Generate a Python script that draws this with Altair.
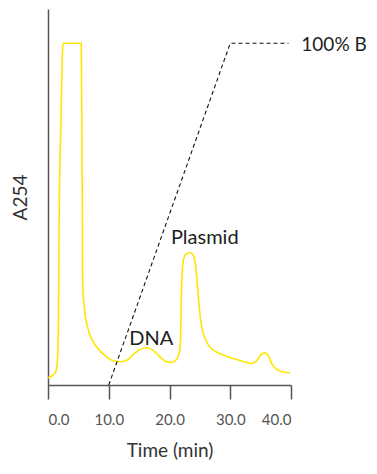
import altair as alt
import pandas as pd

# A254 trace (time in min, absorbance in arbitrary units; 100 = off-scale)
trace_time = [0.0, 0.49, 0.99, 1.32, 1.53, 1.70, 1.86, 2.14, 2.39, 2.47,
              5.48, 5.65, 5.70, 5.93, 6.37, 6.91, 8.02, 9.66, 10.70, 11.97,
              13.0, 13.99, 14.98, 16.13, 17.28, 18.44, 19.42, 20.36, 21.07, 21.56,
              21.81, 21.94, 22.06, 22.30, 22.72, 23.37, 23.80, 24.20, 24.53, 24.86,
              25.30, 25.84, 26.67, 27.82, 28.81, 30.78, 32.43, 33.42, 34.24, 34.90,
              35.64, 36.21, 36.87, 37.70, 38.68, 39.84]
trace_a254 = [2.1, 2.5, 3.2, 4.1, 6.7, 15.2, 54.1, 77.5, 98.0, 100.0,
              100.0, 54.1, 30.7, 23.4, 18.1, 14.6, 11.1, 8.2, 7.1, 6.8,
              7.3, 8.8, 10.2, 10.9, 10.2, 8.2, 6.9, 6.6, 7.3, 9.1,
              13.2, 24.9, 32.2, 36.6, 38.3, 38.7, 38.3, 36.0, 30.7, 23.4,
              17.0, 13.7, 11.1, 9.6, 8.8, 7.6, 6.7, 6.3, 6.9, 8.5,
              9.4, 8.8, 6.1, 4.5, 3.8, 3.6]

# Gradient (%B)
grad_time = [10.0, 30.0, 39.6]
grad_b = [0.0, 100.0, 100.0]

# Annotations
label_text = ["DNA", "Plasmid"]
label_time = [17.0, 25.8]
label_val = [11.7, 41.2]

end_text = ["100% B"]
end_time = [41.7]
end_val = [99.5]

x_ticks = [0, 10, 20, 30, 40]

FONT = "Lato"

trace_df = pd.DataFrame({"t": trace_time, "a": trace_a254, "o": list(range(len(trace_time)))})
grad_df = pd.DataFrame({"t": grad_time, "a": grad_b})
lab_df = pd.DataFrame({"t": label_time, "a": label_val, "txt": label_text})
end_df = pd.DataFrame({"t": end_time, "a": end_val, "txt": end_text})

xscale = alt.Scale(domain=[0, 40], nice=False, zero=False)
yscale = alt.Scale(domain=[0, 110], nice=False)

xaxis = alt.Axis(values=x_ticks, format=".1f", title="Time (min)", grid=False,
                 domainColor="#555", domainWidth=1.5, tickColor="#555", tickWidth=1.5,
                 tickSize=14, labelPadding=13, labelFontSize=15, labelColor="#555",
                 labelFont=FONT, titleFont=FONT, titleFontSize=19, titleFontWeight="normal",
                 titleColor="#333", titlePadding=14)
yaxis = alt.Axis(title="A254", grid=False, ticks=False, labels=False,
                 domainColor="#555", domainWidth=1.5, titleFont=FONT, titleFontSize=19,
                 titleFontWeight="normal", titleColor="#333", titlePadding=18)

trace = alt.Chart(trace_df).mark_line(color="#FFE600", strokeWidth=1.6, interpolate="monotone").encode(
    x=alt.X("t:Q", scale=xscale, axis=xaxis),
    y=alt.Y("a:Q", scale=yscale, axis=yaxis),
    order="o:Q",
)

grad = alt.Chart(grad_df).mark_line(color="#111", strokeWidth=1.1, strokeDash=[4, 3]).encode(
    x=alt.X("t:Q", scale=xscale),
    y=alt.Y("a:Q", scale=yscale),
)

labels = alt.Chart(lab_df).mark_text(font=FONT, fontSize=20, color="#222", baseline="alphabetic",
                                     align="center").encode(
    x=alt.X("t:Q", scale=xscale),
    y=alt.Y("a:Q", scale=yscale),
    text="txt:N",
)

endlab = alt.Chart(end_df).mark_text(font=FONT, fontSize=19, color="#222", baseline="middle",
                                     align="left").encode(
    x=alt.X("t:Q", scale=xscale),
    y=alt.Y("a:Q", scale=yscale),
    text="txt:N",
)

chart = alt.layer(trace, grad, labels, endlab).properties(
    width=243, height=376,
    autosize=alt.AutoSizeParams(type="none"),
    padding={"left": 40, "top": 1, "right": 78, "bottom": 81},
).configure_view(stroke=None)

chart.save("out.html", embed_options={"renderer": "svg", "actions": False})
